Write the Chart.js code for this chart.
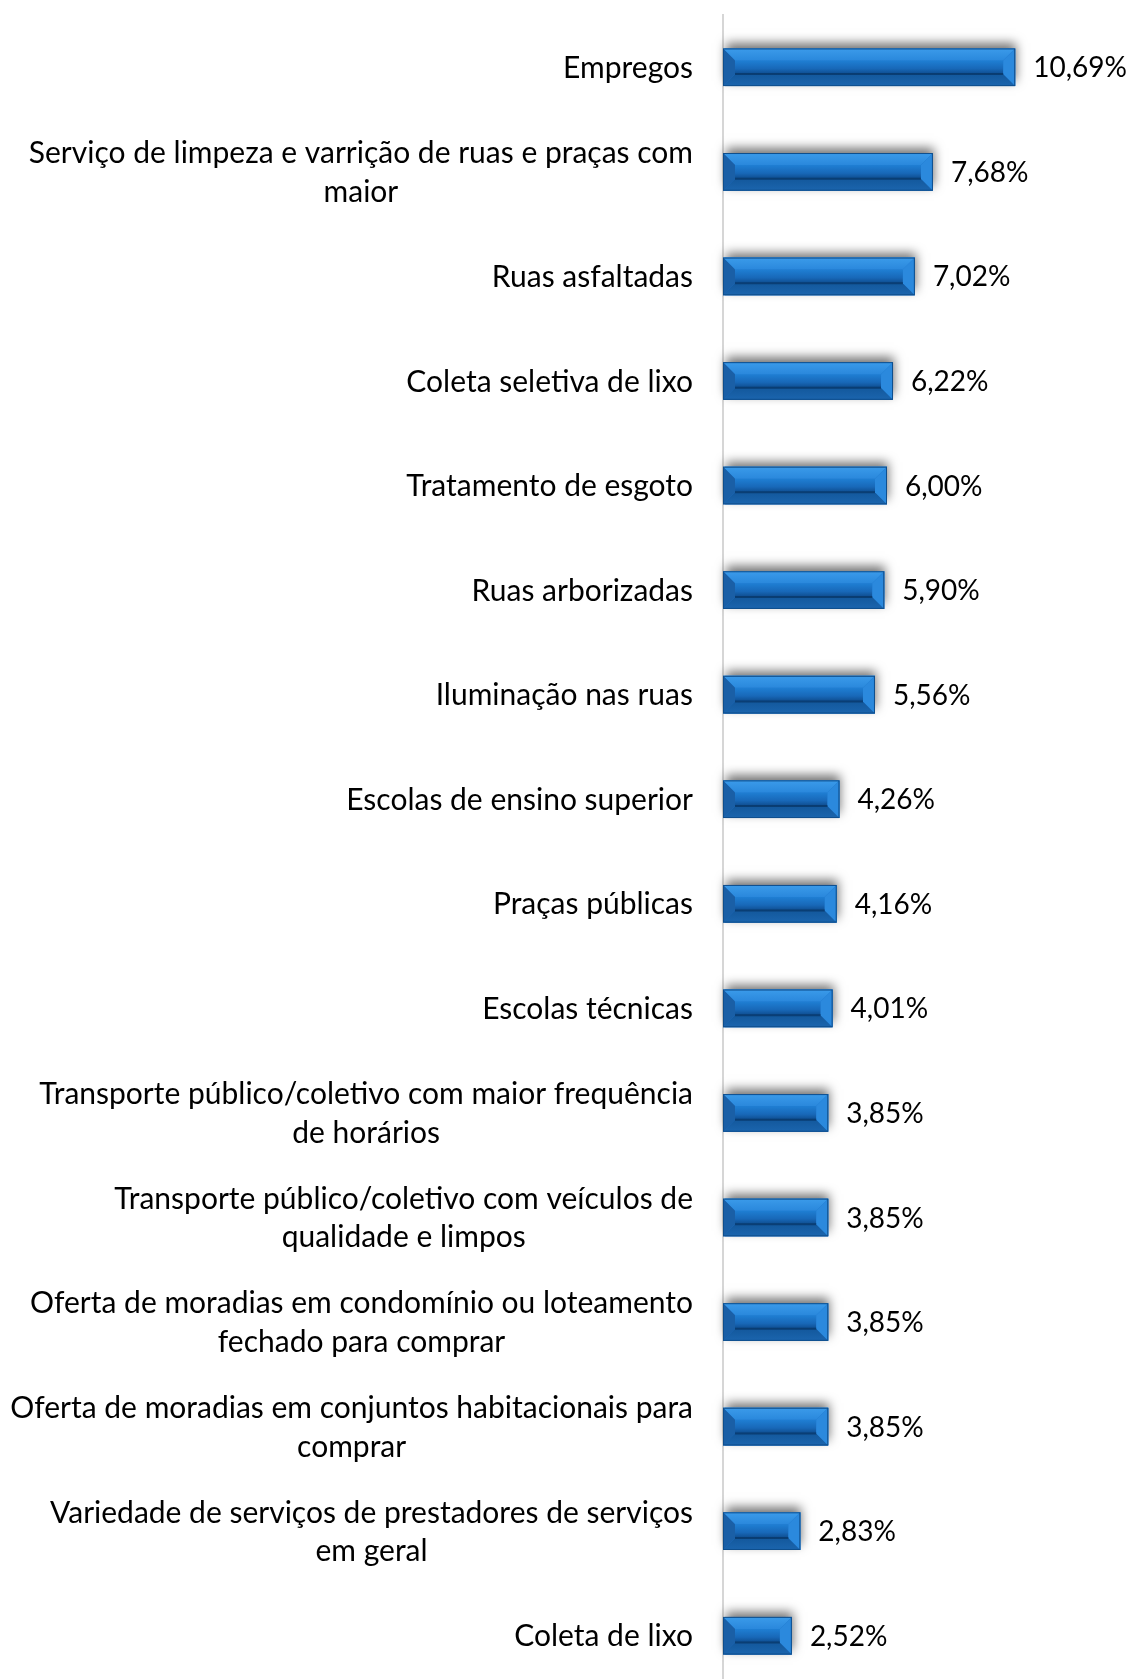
<!DOCTYPE html>
<html>
<head>
<meta charset="utf-8">
<script src="https://cdn.jsdelivr.net/npm/chart.js@4/dist/chart.umd.min.js"></script>
<style>
  html, body { margin: 0; padding: 0; background: #ffffff; overflow: hidden; }
  #wrap { width: 1131px; height: 1688px; }
</style>
</head>
<body>
<div id="wrap"><canvas id="c" width="1131" height="1688"></canvas></div>
<script>
const categories = [
  ["Empregos"],
  ["Serviço de limpeza e varrição de ruas e praças com", "maior"],
  ["Ruas asfaltadas"],
  ["Coleta seletiva de lixo"],
  ["Tratamento de esgoto"],
  ["Ruas arborizadas"],
  ["Iluminação nas ruas"],
  ["Escolas de ensino superior"],
  ["Praças públicas"],
  ["Escolas técnicas"],
  ["Transporte público/coletivo com maior frequência", "de horários"],
  ["Transporte público/coletivo com veículos de", "qualidade e limpos"],
  ["Oferta de moradias em condomínio ou loteamento", "fechado para comprar"],
  ["Oferta de moradias em conjuntos habitacionais para", "comprar"],
  ["Variedade de serviços de prestadores de serviços", "em geral"],
  ["Coleta de lixo"]
];
const values = [10.69, 7.68, 7.02, 6.22, 6.00, 5.90, 5.56, 4.26, 4.16, 4.01, 3.85, 3.85, 3.85, 3.85, 2.83, 2.52];
const axisMax = 12;

const FONT = "Lato, 'Open Sans', sans-serif";
const CAT_SIZE = 30;
const VAL_SIZE = 28;
const LINE_H = 38.6;

function fmt(v) { return v.toFixed(2).replace('.', ',') + '%'; }

const barStyle = {
  id: 'barStyle',
  beforeDatasetsDraw(chart) {
    const ctx = chart.ctx;
    const meta = chart.getDatasetMeta(0);
    ctx.save();
    meta.data.forEach(el => {
      const x0 = el.base, x1 = el.x, h = el.height, y0 = el.y - h / 2;
      ctx.save();
      ctx.shadowColor = 'rgba(0,0,0,0.55)';
      ctx.shadowBlur = 10;
      ctx.shadowOffsetX = 1;
      ctx.shadowOffsetY = -5;
      ctx.fillStyle = '#1a6cc0';
      ctx.fillRect(x0 + 2, y0, x1 - x0 - 2, h);
      ctx.restore();
    });
    ctx.restore();
  },
  afterDatasetsDraw(chart) {
    const ctx = chart.ctx;
    const meta = chart.getDatasetMeta(0);
    ctx.save();
    meta.data.forEach((el, i) => {
      const x0 = el.base, x1 = el.x, h = el.height, y0 = el.y - h / 2, y1 = y0 + h;
      const b = Math.min(12, h / 3, (x1 - x0) / 3);
      const g = ctx.createLinearGradient(0, y0 + b, 0, y1 - b);
      g.addColorStop(0, '#1f7fd4');
      g.addColorStop(0.6, '#1868b8');
      g.addColorStop(1, '#0e4c8e');
      ctx.fillStyle = g;
      ctx.fillRect(x0 + b, y0 + b, x1 - x0 - 2 * b, h - 2 * b);
      let tg = ctx.createLinearGradient(0, y0, 0, y0 + b);
      tg.addColorStop(0, '#3b9bea');
      tg.addColorStop(1, '#2a88dc');
      ctx.fillStyle = tg;
      ctx.beginPath();
      ctx.moveTo(x0, y0); ctx.lineTo(x1, y0); ctx.lineTo(x1 - b, y0 + b); ctx.lineTo(x0 + b, y0 + b); ctx.closePath();
      ctx.fill();
      let bg = ctx.createLinearGradient(0, y1 - b, 0, y1);
      bg.addColorStop(0, '#13589c');
      bg.addColorStop(1, '#1b65ae');
      ctx.fillStyle = bg;
      ctx.beginPath();
      ctx.moveTo(x0, y1); ctx.lineTo(x1, y1); ctx.lineTo(x1 - b, y1 - b); ctx.lineTo(x0 + b, y1 - b); ctx.closePath();
      ctx.fill();
      ctx.fillStyle = '#1a5fa6';
      ctx.beginPath();
      ctx.moveTo(x0, y0); ctx.lineTo(x0 + b, y0 + b); ctx.lineTo(x0 + b, y1 - b); ctx.lineTo(x0, y1); ctx.closePath();
      ctx.fill();
      ctx.fillStyle = '#2b89dd';
      ctx.beginPath();
      ctx.moveTo(x1, y0); ctx.lineTo(x1 - b, y0 + b); ctx.lineTo(x1 - b, y1 - b); ctx.lineTo(x1, y1); ctx.closePath();
      ctx.fill();
      ctx.strokeStyle = 'rgba(8,55,105,0.8)';
      ctx.lineWidth = 2;
      ctx.beginPath();
      ctx.moveTo(x0 + b, y1 - b); ctx.lineTo(x1 - b, y1 - b);
      ctx.stroke();
      ctx.strokeStyle = '#0f4e8c';
      ctx.lineWidth = 1;
      ctx.strokeRect(x0 + 0.5, y0 + 0.5, x1 - x0 - 1, h - 1);

      ctx.fillStyle = '#000000';
      ctx.font = VAL_SIZE + 'px ' + FONT;
      ctx.textAlign = 'left';
      ctx.textBaseline = 'middle';
      ctx.fillText(fmt(values[i]), x1 + 18, el.y + 1);
    });

    const yScale = chart.scales.y;
    const labelRight = chart.chartArea.left - 30;
    ctx.font = CAT_SIZE + 'px ' + FONT;
    ctx.fillStyle = '#000000';
    ctx.textAlign = 'center';
    ctx.textBaseline = 'middle';
    categories.forEach((lines, i) => {
      const y = yScale.getPixelForTick(i);
      const w = Math.max(...lines.map(l => ctx.measureText(l).width));
      const cx = labelRight - w / 2;
      lines.forEach((l, j) => {
        ctx.fillText(l, cx, y + 1 + (j - (lines.length - 1) / 2) * LINE_H);
      });
    });
    ctx.restore();
  }
};

new Chart(document.getElementById('c'), {
  type: 'bar',
  data: {
    labels: categories.map(c => c.join(' ')),
    datasets: [{
      data: values,
      backgroundColor: '#1c72c6',
      borderWidth: 0,
      barPercentage: 0.36,
      categoryPercentage: 1.0
    }]
  },
  options: {
    indexAxis: 'y',
    responsive: false,
    animation: false,
    devicePixelRatio: 1,
    layout: { padding: { top: 15, right: 80, bottom: 0, left: 0 } },
    plugins: { legend: { display: false }, tooltip: { enabled: false } },
    scales: {
      x: { display: false, min: 0, max: axisMax },
      y: {
        grid: { display: false },
        border: { display: true, color: '#d6d6d6', width: 2 },
        ticks: { display: false },
        afterFit(s) { s.width = 723; }
      }
    }
  },
  plugins: [barStyle]
});
</script>
</body>
</html>
